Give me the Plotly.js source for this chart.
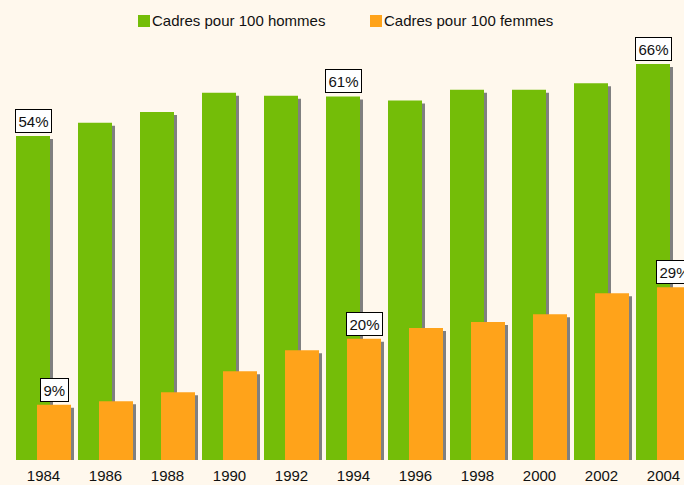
<!DOCTYPE html>
<html>
<head>
<meta charset="utf-8">
<script src="https://cdn.plot.ly/plotly-3.0.1.min.js"></script>
<style>html,body{margin:0;padding:0;background:#FFF8ED;}</style>
</head>
<body>
<div id="chart" style="width:684px;height:485px;"></div>
<script>
// ---- data ----
const years = [1984, 1986, 1988, 1990, 1992, 1994, 1996, 1998, 2000, 2002, 2004];
const yearLabels = ['1984', '1986', '1988', '1990', '1992', '1994', '1996', '1998', '2000', '2002', '2004'];
const menValues = [54, 56.2, 58, 61.2, 60.7, 60.6, 59.9, 61.7, 61.7, 62.8, 66];
const womenValues = [9.2, 9.8, 11.3, 14.8, 18.3, 20.2, 22, 23, 24.3, 27.8, 28.8];
const seriesNames = ['Cadres pour 100 hommes', 'Cadres pour 100 femmes'];
const labeledIndices = [0, 5, 10];

// ---- styling ----
const GREEN = '#74BD08', ORANGE = '#FFA31A', SHADOW = '#808080', BG = '#FFF8ED';
const FONT = 'Liberation Sans, Arial, sans-serif';
const W = 684, H = 485, MT = 40, MB = 25;
const pxPerYear = 31;               // 62 px per 2-year category
const barW = 34 / pxPerYear;
const greenOff = -27.5 / pxPerYear;
const orangeOff = -6.5 / pxPerYear;
const shX = 3 / pxPerYear;
const yMax = 70;
const pxPerUnit = (H - MT - MB) / yMax;
const shY = 3 / pxPerUnit;

function bar(values, off, color, name) {
  return {type: 'bar', x: years, y: values, offset: off, width: barW, base: 0,
          marker: {color: color, line: {width: 0}}, name: name, showlegend: false,
          hoverinfo: 'skip'};
}
const traces = [
  bar(menValues.map(v => v - shY), greenOff + shX, SHADOW, 's1'),
  bar(menValues, greenOff, GREEN, seriesNames[0]),
  bar(womenValues.map(v => v - shY), orangeOff + shX, SHADOW, 's2'),
  bar(womenValues, orangeOff, ORANGE, seriesNames[1])
];

const annotations = [];
labeledIndices.forEach(i => {
  [[menValues, greenOff], [womenValues, orangeOff]].forEach(([vals, off]) => {
    annotations.push({x: years[i] + off + barW / 2, y: vals[i], xref: 'x', yref: 'y',
      text: Math.round(vals[i]) + '%', showarrow: false, yanchor: 'bottom', xanchor: 'center',
      yshift: 3, bgcolor: '#FFFFFF', bordercolor: '#000000', borderwidth: 1, borderpad: 2.5,
      font: {family: FONT, size: 15, color: '#111'}});
  });
});

// custom legend
const legendItems = [{name: seriesNames[0], color: GREEN, x0: 138}, {name: seriesNames[1], color: ORANGE, x0: 370}];
const shapes = [];
const py = p => (H - MB - p) / (H - MT - MB);
legendItems.forEach(it => {
  shapes.push({type: 'rect', xref: 'paper', yref: 'paper', x0: it.x0 / W, x1: (it.x0 + 12) / W,
    y0: py(27), y1: py(15), fillcolor: it.color, line: {width: 0}});
  annotations.push({xref: 'paper', yref: 'paper', x: (it.x0 + 12) / W, y: py(21), xanchor: 'left',
    yanchor: 'middle', showarrow: false, text: it.name,
    font: {family: FONT, size: 15, color: '#111'}});
});

const xMin = 1984 - 43.5 / pxPerYear;
const xMax = 1984 + (W - 43.5) / pxPerYear;

const layout = {
  width: W, height: H,
  margin: {l: 0, r: 0, t: MT, b: MB, pad: 0},
  paper_bgcolor: BG, plot_bgcolor: BG,
  barmode: 'overlay',
  showlegend: false,
  xaxis: {range: [xMin, xMax], tickvals: years, ticktext: yearLabels, showgrid: false,
          zeroline: false, showline: false, ticks: '', fixedrange: true, ticklabelstandoff: 5,
          tickfont: {family: FONT, size: 15, color: '#111'}},
  yaxis: {range: [0, yMax], showgrid: false, zeroline: false, showline: false,
          showticklabels: false, ticks: '', fixedrange: true},
  annotations: annotations,
  shapes: shapes
};
Plotly.newPlot('chart', traces, layout, {staticPlot: true, displayModeBar: false});
</script>
</body>
</html>
